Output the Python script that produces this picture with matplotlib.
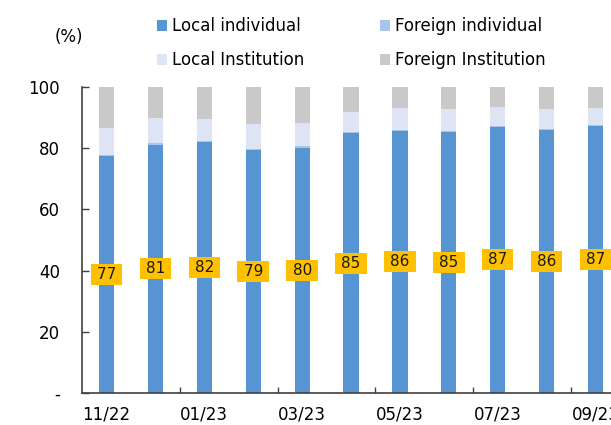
import numpy as np
import matplotlib
matplotlib.use('Agg')
import matplotlib.pyplot as plt

# Investor mix by month (%), stacked bars
months = ['11/22', '12/22', '01/23', '02/23', '03/23', '04/23',
          '05/23', '06/23', '07/23', '08/23', '09/23']
local_indiv = [77.3, 81.2, 81.9, 79.3, 80.1, 84.9, 85.7, 85.3, 87.0, 85.8, 87.1]
foreign_indiv = [0.5, 0.4, 0.4, 0.4, 0.6, 0.5, 0.4, 0.4, 0.4, 0.4, 0.4]
local_inst = [8.8, 8.3, 7.1, 8.1, 7.4, 6.5, 7.1, 7.1, 6.2, 6.5, 5.7]
foreign_inst = [13.4, 10.1, 10.6, 12.2, 11.9, 8.1, 6.8, 7.2, 6.4, 7.3, 6.8]
value_labels = [77, 81, 82, 79, 80, 85, 86, 85, 87, 86, 87]

label_months = ['11/22', '01/23', '03/23', '05/23', '07/23', '09/23']

plt.rcParams['font.family'] = 'DejaVu Sans'
plt.rcParams['font.size'] = 12

fig = plt.figure(figsize=(6.11, 4.25), dpi=100)
ax = fig.add_axes([82/611, 32/425, 587/611, 306/425])

x = np.arange(len(months))
w = 0.31
li = np.array(local_indiv)
fi = np.array(foreign_indiv)
lin = np.array(local_inst)
fin = np.array(foreign_inst)

b1 = ax.bar(x, li, w, color='#5794D2', label='Local individual')
b2 = ax.bar(x, fi, w, bottom=li, color='#A9C4EB', label='Foreign individual')
b3 = ax.bar(x, lin, w, bottom=li + fi, color='#DDE5F5', label='Local Institution')
b4 = ax.bar(x, fin, w, bottom=li + fi + lin, color='#C9C9C9', label='Foreign Institution')

# value boxes centred in the local individual segment
for xi, v, lab in zip(x, li, value_labels):
    ax.text(xi, v / 2, '\u2009%d\u2009' % lab, ha='center', va='center', fontsize=11,
            color='#1a1a1a',
            bbox=dict(boxstyle='square,pad=0.2', fc='#FFC000', ec='none'))

ax.set_xlim(-0.5, 11.5)
ax.set_ylim(0, 100)

ax.spines['top'].set_visible(False)
ax.spines['right'].set_visible(False)
for s in ['left', 'bottom']:
    ax.spines[s].set_color('#404040')
    ax.spines[s].set_linewidth(1.2)

ax.set_yticks([0, 20, 40, 60, 80, 100])
ax.set_yticklabels(['-', '20', '40', '60', '80', '100'])
ax.tick_params(axis='y', direction='in', length=5, width=1, color='#404040',
               pad=16, labelsize=12)

ax.set_xticks([1.5, 3.5, 5.5, 7.5, 9.5])
ax.set_xticklabels([])
ax.tick_params(axis='x', which='major', direction='in', length=4, width=1,
               color='#404040')
ax.set_xticks([0, 2, 4, 6, 8, 10], minor=True)
ax.set_xticklabels(label_months, minor=True)
ax.tick_params(axis='x', which='minor', length=0, pad=9, labelsize=12)

fig.text(69/611, 1 - 37/425, '(%)', ha='center', va='center', fontsize=12)

fig.legend([b1, b3, b2, b4],
           ['Local individual', 'Local Institution', 'Foreign individual', 'Foreign Institution'],
           ncol=2, loc='upper left', bbox_to_anchor=(149/611, 1 - 9/425),
           frameon=False, borderpad=0, handlelength=0.6, handleheight=0.6,
           handletextpad=0.25, columnspacing=4.6, labelspacing=0.95, fontsize=12)

fig.savefig('out.png', dpi=100)
